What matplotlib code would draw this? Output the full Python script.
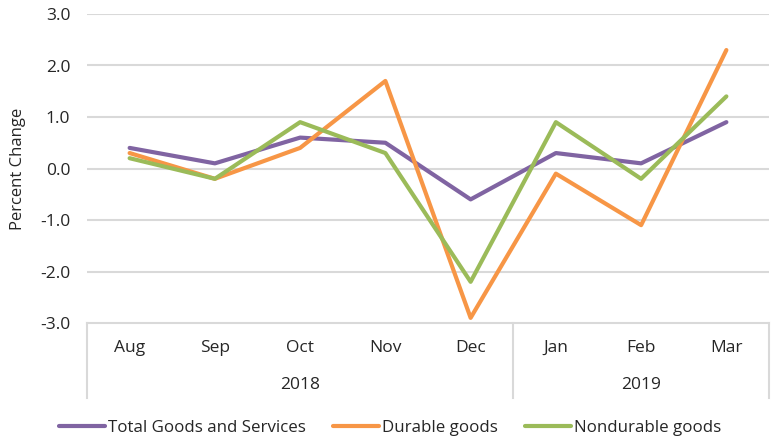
import matplotlib
matplotlib.use("Agg")
import matplotlib.pyplot as plt

months = ["Aug", "Sep", "Oct", "Nov", "Dec", "Jan", "Feb", "Mar"]
years = ["2018", "2019"]
year_groups = [(0, 4), (5, 7)]
total = [0.4, 0.1, 0.6, 0.5, -0.6, 0.3, 0.1, 0.9]
durable = [0.3, -0.2, 0.4, 1.7, -2.9, -0.1, -1.1, 2.3]
nondurable = [0.2, -0.2, 0.9, 0.3, -2.2, 0.9, -0.2, 1.4]
yticks = [-3.0, -2.0, -1.0, 0.0, 1.0, 2.0, 3.0]

plt.rcParams['font.family'] = ['Open Sans', 'DejaVu Sans']
txt = '#262626'
grid_c = '#D9D9D9'
fs = 12.5

fig = plt.figure(figsize=(7.73, 4.40), dpi=100)
W, H = 773, 440
left, right, top, bottom = 87, 769, 14, 323
ax = fig.add_axes([left / W, 1 - bottom / H, (right - left) / W, (bottom - top) / H])

x = list(range(len(months)))
ax.plot(x, total, color='#8064A2', lw=3, solid_capstyle='round', label='Total Goods and Services', zorder=3)
ax.plot(x, durable, color='#F79646', lw=3, solid_capstyle='round', label='Durable goods', zorder=3)
ax.plot(x, nondurable, color='#9BBB59', lw=3, solid_capstyle='round', label='Nondurable goods', zorder=3)

ax.set_xlim(-0.5, len(months) - 0.5)
ax.set_ylim(-3, 3)
ax.set_yticks(yticks)
ax.set_yticklabels([f"{v:.1f}" for v in yticks], fontsize=fs, color=txt)
ax.tick_params(axis='y', length=0, pad=12)
ax.set_xticks([])
for s in ['top', 'right', 'left']:
    ax.spines[s].set_visible(False)
ax.spines['bottom'].set_color(grid_c)
ax.spines['bottom'].set_linewidth(1.5)
for v in yticks[1:]:
    ax.axhline(v, color=grid_c, lw=1.5, zorder=1)

trans = ax.get_xaxis_transform()
ah = bottom - top
sep_bottom = -(398 - bottom) / ah
for xs in [-0.5, 4.5, 7.5]:
    ax.plot([xs, xs], [0, sep_bottom], transform=trans, color=grid_c, lw=1.5, clip_on=False)
for i, m in enumerate(months):
    ax.text(i, -(348 - bottom) / ah, m, transform=trans, ha='center', va='center', fontsize=fs, color=txt)
for yr, (a, b) in zip(years, year_groups):
    ax.text((a + b) / 2, -(385 - bottom) / ah, yr, transform=trans, ha='center', va='center', fontsize=fs, color=txt)

ax.set_ylabel('Percent Change', fontsize=12, color=txt)
ax.yaxis.set_label_coords(-(87 - 18) / (right - left), 0.5)
ax.yaxis.label.set_va('center')

fig.legend(loc='center', bbox_to_anchor=(0.505, 1 - 428 / H), ncol=3, frameon=False,
           fontsize=12.2, handlelength=2.7, handletextpad=0.2, columnspacing=1.6,
           labelcolor=txt)

fig.savefig('out.png', dpi=100)
